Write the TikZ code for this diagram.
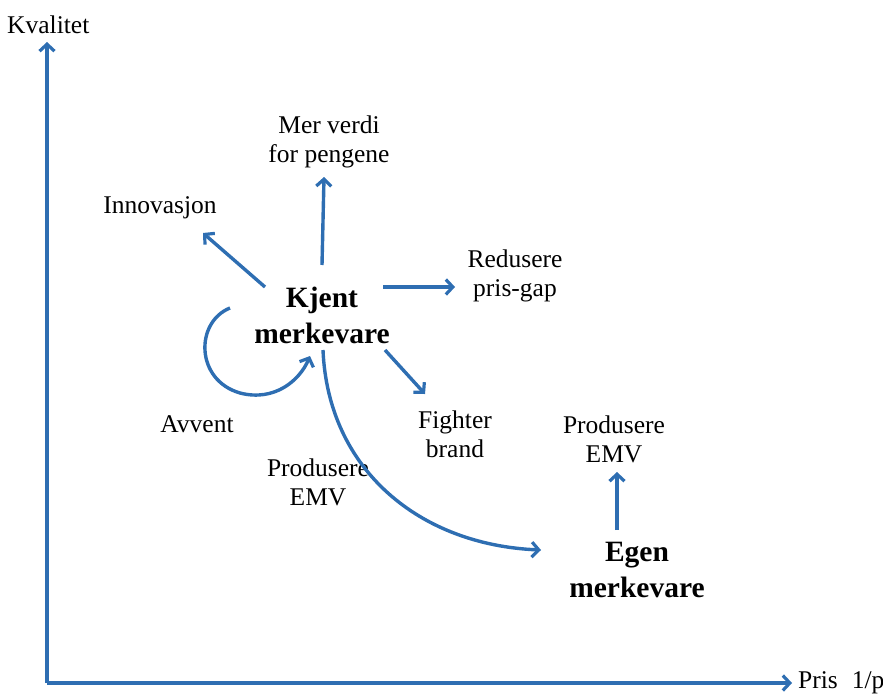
\documentclass[tikz,border=0pt]{standalone}
\usepackage{fontspec}
\setmainfont{Liberation Serif}
\usetikzlibrary{arrows.meta}
\definecolor{arrblue}{RGB}{46,110,178}
\begin{document}
\begin{tikzpicture}[x=1pt,y=-1pt,
  conn/.style={draw=arrblue,line width=3.4pt,-{Straight Barb[length=7pt,width=15pt,line width=3.2pt]}},
  lbl/.style={font=\fontsize{25.5}{29}\selectfont,align=center,inner sep=0pt},
  big/.style={font=\fontsize{29.5}{36}\selectfont\bfseries,align=center,inner sep=0pt}]
\useasboundingbox (0,0) rectangle (883,699);
\coordinate (O) at (47,683);
\coordinate (ytip) at (47,42);
\coordinate (xtip) at (792,683);
\draw[conn] (O) -- (ytip);
\draw[conn] (O) -- (xtip);
\node[lbl,anchor=west] (kval) at (7,25) {Kvalitet};
\node[lbl,anchor=west] (pris) at (798,683) {Pris\hspace{14pt}1/p};

\node[big] (kjent) at (322,315) {Kjent\\merkevare};
\node[lbl] (innov) at (160,208) {Innovasjon};
\node[lbl] (verdi) at (329,142) {Mer verdi\\for pengene};
\node[lbl] (redus) at (515,276) {Redusere\\pris-gap};
\node[lbl] (fight) at (455,434) {Fighter\\brand};
\node[lbl] (avvent) at (197,424) {Avvent};
\node[lbl] (prodl) at (318,482) {Produsere\\EMV};
\node[lbl] (prodr) at (614,439) {Produsere\\EMV};
\node[big] (egen) at (637,570) {Egen\\merkevare};

\coordinate (a1s) at (265,287); \coordinate (a1e) at (203,233);
\draw[conn] (a1s) -- (a1e);
\coordinate (a2s) at (322,265); \coordinate (a2e) at (324,177);
\draw[conn] (a2s) -- (a2e);
\coordinate (a3s) at (383,287); \coordinate (a3e) at (455,287);
\draw[conn] (a3s) -- (a3e);
\coordinate (a4s) at (385,350); \coordinate (a4e) at (425,394);
\draw[conn] (a4s) -- (a4e);
\coordinate (a5s) at (230,308); \coordinate (a5e) at (310,356);
\draw[conn] (a5s) .. controls (195,322) and (195,380) .. (240,393) .. controls (275,402) and (300,380) .. (a5e);
\coordinate (a6s) at (323,350); \coordinate (a6e) at (541,550);
\draw[conn] (a6s) .. controls (328,470) and (420,545) .. (a6e);
\coordinate (a7s) at (617,530); \coordinate (a7e) at (617,472);
\draw[conn] (a7s) -- (a7e);
\end{tikzpicture}
\end{document}
